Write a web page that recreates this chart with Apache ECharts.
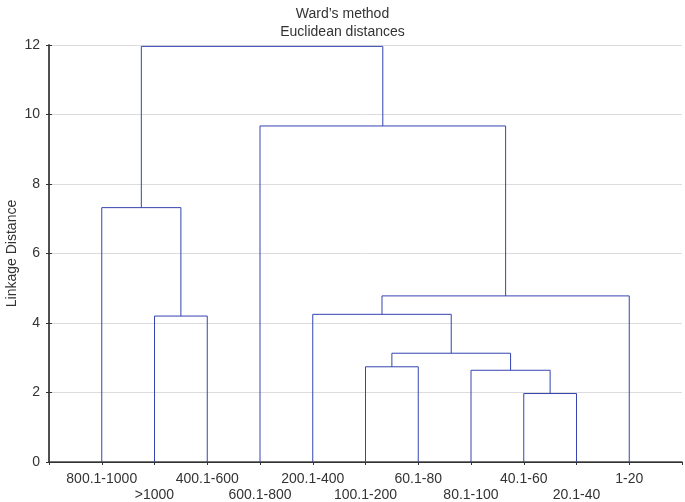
<!DOCTYPE html>
<html>
<head>
<meta charset="utf-8">
<script src="https://cdn.jsdelivr.net/npm/echarts@6/dist/echarts.min.js"></script>
<style>
  html, body { margin: 0; padding: 0; background: #fff; }
  #chart { width: 685px; height: 502px; }
</style>
</head>
<body>
<div id="chart"></div>
<script>
// leaves in dendrogram order (position 1..11 on x)
var leafLabels = ['800.1-1000', '>1000', '400.1-600', '600.1-800', '200.1-400',
  '100.1-200', '60.1-80', '80.1-100', '40.1-60', '20.1-40', '1-20'];

// merges: node ids 0..10 are leaves, 11.. are merges in this order
var mergeLeft   = [1, 0, 5, 8, 7, 13, 4, 17, 3, 12];
var mergeRight  = [2, 11, 6, 9, 14, 15, 16, 10, 18, 19];
var mergeHeight = [4.2, 7.32, 2.74, 1.97, 2.64, 3.13, 4.25, 4.78, 9.67, 11.96];

var yTicks = [0, 2, 4, 6, 8, 10, 12];

var chart = echarts.init(document.getElementById('chart'));

// position and height of each node
var nodeX = leafLabels.map(function (_, i) { return i + 1; });
var nodeH = leafLabels.map(function () { return 0; });
var series = [];
mergeHeight.forEach(function (h, k) {
  var a = mergeLeft[k], b = mergeRight[k];
  series.push({
    type: 'line',
    symbol: 'none',
    silent: true,
    lineStyle: { color: '#3444b0', width: 1 },
    data: [[nodeX[a], nodeH[a]], [nodeX[a], h], [nodeX[b], h], [nodeX[b], nodeH[b]]]
  });
  nodeX.push((nodeX[a] + nodeX[b]) / 2);
  nodeH.push(h);
});

var font = 'Liberation Sans, Arial, sans-serif';

var option = {
  animation: false,
  title: {
    text: 'Ward\u2019s method\nEuclidean distances',
    left: 'center',
    top: 0,
    textStyle: { fontFamily: font, fontSize: 14, fontWeight: 'normal', color: '#333', lineHeight: 18 }
  },
  grid: { left: 49, right: 3, top: 45, bottom: 40, outerBoundsMode: 'none', containLabel: false },
  xAxis: [{
    type: 'value',
    min: 0, max: 12, interval: 1,
    axisLine: { show: true, lineStyle: { color: '#444', width: 1.5 } },
    axisTick: { show: false },
    splitLine: { show: false },
    axisLabel: {
      fontFamily: font, fontSize: 14, color: '#333', margin: 9, lineHeight: 16,
      formatter: function (v) {
        var i = v - 1;
        if (i < 0 || i >= leafLabels.length) return '';
        return i % 2 === 0 ? leafLabels[i] + '\n ' : ' \n' + leafLabels[i];
      }
    }
  }, {
    type: 'value',
    position: 'top',
    min: 0, max: 12, interval: 1,
    axisLine: { show: true, lineStyle: { color: '#333' } },
    axisTick: { show: true, inside: true, length: 3, lineStyle: { color: '#333' } },
    axisLabel: { show: false },
    splitLine: { show: false }
  }],
  yAxis: [{
    type: 'value',
    min: yTicks[0], max: yTicks[yTicks.length - 1], interval: 2,
    name: 'Linkage Distance',
    nameLocation: 'middle',
    nameGap: 37,
    nameMoveOverlap: false,
    nameTextStyle: { fontFamily: font, fontSize: 14, color: '#333', verticalAlign: 'middle' },
    axisLine: { show: true, lineStyle: { color: '#444', width: 1.5 } },
    axisTick: { show: true, inside: true, length: 3, lineStyle: { color: '#333' } },
    axisLabel: { fontFamily: font, fontSize: 14, color: '#333', margin: 9 },
    splitLine: { show: true, lineStyle: { color: '#dcdcdc' } }
  }, {
    type: 'value',
    position: 'right',
    min: yTicks[0], max: yTicks[yTicks.length - 1], interval: 2,
    axisLine: { show: true, lineStyle: { color: '#444', width: 1.5 } },
    axisTick: { show: true, inside: true, length: 3, lineStyle: { color: '#333' } },
    axisLabel: { show: false },
    splitLine: { show: false }
  }],
  series: series
};

chart.setOption(option);
</script>
</body>
</html>
